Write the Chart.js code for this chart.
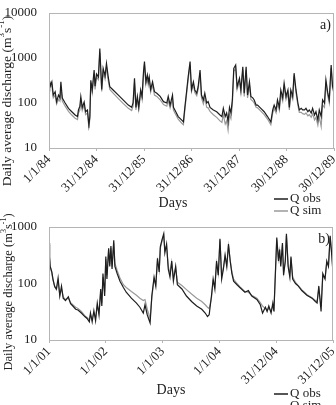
<!DOCTYPE html>
<html>
<head>
<meta charset="utf-8">
<script src="https://cdn.jsdelivr.net/npm/chart.js@4/dist/chart.umd.min.js"></script>
<style>
  body { margin: 0; background: #fff; width: 336px; height: 405px; overflow: hidden; position: relative; }
  canvas { display: block; position: absolute; left: 0; }
  #chartA { top: 0; }
  #chartB { top: 195px; }
</style>
</head>
<body>
<canvas id="chartA" width="336" height="218"></canvas>
<canvas id="chartB" width="336" height="210"></canvas>
<script>
// panel a) 1984-1989, time in years since 1/1/84
const tA = [0.00,0.02,0.06,0.09,0.13,0.16,0.20,0.23,0.25,0.28,0.34,0.41,0.48,0.55,0.60,0.62,0.65,0.67,0.70,0.74,
  0.77,0.81,0.84,0.86,0.88,0.91,0.95,0.97,1.00,1.04,1.07,1.11,1.14,1.18,1.21,1.25,1.28,1.35,1.46,1.56,
  1.67,1.74,1.77,1.80,1.83,1.86,1.89,1.93,1.96,1.99,2.01,2.04,2.07,2.09,2.11,2.14,2.18,2.22,2.27,2.34,
  2.41,2.48,2.51,2.55,2.60,2.62,2.65,2.72,2.79,2.83,2.86,2.90,2.93,2.97,3.00,3.04,3.07,3.11,3.14,3.18,
  3.21,3.25,3.28,3.32,3.35,3.39,3.46,3.53,3.60,3.64,3.67,3.71,3.74,3.77,3.80,3.83,3.86,3.89,3.93,3.96,
  4.01,4.04,4.08,4.11,4.15,4.18,4.22,4.25,4.29,4.32,4.36,4.39,4.46,4.53,4.60,4.67,4.71,4.74,4.78,4.81,
  4.85,4.88,4.92,4.95,4.99,5.03,5.06,5.09,5.13,5.16,5.20,5.24,5.27,5.31,5.34,5.38,5.41,5.45,5.48,5.52,
  5.55,5.59,5.62,5.66,5.69,5.73,5.76,5.80,5.83,5.87,5.90,5.94,5.97,6.00]
const obsA = [300,230,295,150,178,107,150,129,295,129,100,76,64,54,50,70,85,138,80,105,
  64,70,32,50,320,195,540,235,440,380,1630,200,590,400,760,360,230,195,150,117,
  90,80,100,355,80,140,80,195,140,500,830,295,420,295,380,200,295,178,165,140,
  107,100,140,90,150,80,70,50,42,38,80,195,380,830,200,295,195,165,230,540,
  150,117,165,100,107,80,70,64,54,50,76,50,60,38,80,60,117,590,700,230,
  355,195,640,165,640,150,295,140,130,117,90,90,76,64,50,38,70,90,70,117,
  80,195,130,275,140,195,80,195,140,460,195,100,70,76,70,70,76,64,70,60,
  76,54,64,42,70,50,117,100,325,165,117,700,230,190]
const simA = [270,220,250,130,150,95,120,110,230,110,85,65,54,46,43,60,70,110,68,90,
  55,60,28,45,280,170,450,200,380,330,1300,180,480,340,620,300,200,165,125,98,
  76,68,85,280,70,120,72,170,120,430,720,260,360,250,320,175,250,150,140,118,
  92,85,115,78,120,70,60,44,36,33,70,170,330,700,180,250,170,145,200,460,
  130,95,130,80,78,65,55,48,40,37,55,34,40,25,55,45,90,500,600,200,
  300,170,540,140,540,130,250,120,110,100,80,78,66,55,44,33,60,75,60,95,
  68,160,110,230,120,165,70,160,120,390,170,88,62,62,58,56,60,52,55,48,
  58,42,48,32,50,30,90,80,270,140,100,600,200,170]
const xTickPosA = [0,1,2,3,4,5,6]
const xLabelsA = ["1/1/84","31/12/84","31/12/85","31/12/86","31/12/87","30/12/88","30/12/89"]
const yTicksA = [10,100,1000,10000]

// panel b) 2001-2005, time in years since 1/1/01
const tB = [0.00,0.01,0.02,0.05,0.07,0.10,0.13,0.16,0.19,0.22,0.25,0.29,0.34,0.38,0.42,0.47,0.51,0.57,0.63,0.67,
  0.71,0.73,0.76,0.79,0.82,0.85,0.88,0.91,0.93,0.95,0.98,1.00,1.02,1.05,1.07,1.09,1.11,1.14,1.16,1.20,
  1.25,1.31,1.36,1.45,1.54,1.60,1.66,1.69,1.73,1.78,1.81,1.85,1.88,1.91,1.94,1.96,1.99,2.02,2.04,2.07,
  2.10,2.13,2.16,2.19,2.23,2.26,2.34,2.42,2.51,2.60,2.69,2.75,2.79,2.82,2.86,2.89,2.92,2.95,2.98,3.01,
  3.04,3.07,3.10,3.13,3.16,3.19,3.22,3.25,3.31,3.36,3.45,3.51,3.57,3.66,3.72,3.76,3.81,3.84,3.87,3.91,
  3.94,3.96,3.99,4.01,4.04,4.06,4.08,4.11,4.13,4.16,4.18,4.21,4.24,4.26,4.29,4.34,4.39,4.45,4.54,4.63,
  4.69,4.72,4.75,4.79,4.82,4.86,4.89,4.92,4.95,4.98,5.00]
const obsB = [520,300,200,160,120,88,80,125,60,90,55,50,58,44,40,35,34,30,26,24,
  21,30,21,33,22,45,28,80,40,150,60,300,120,420,200,460,180,580,200,150,
  110,85,70,55,45,38,30,42,28,20,60,130,90,280,160,450,600,760,350,500,
  180,130,250,110,200,95,80,60,48,40,35,30,26,28,60,120,80,250,140,620,
  120,180,320,200,500,250,150,110,95,85,70,75,60,52,42,30,38,32,40,30,
  45,32,200,650,250,400,200,520,140,250,760,200,130,300,120,100,90,75,62,55,
  48,45,90,32,150,120,250,200,700,300,150]
const simB = [480,280,210,150,115,90,78,110,62,80,58,52,55,46,42,38,36,32,27,25,
  23,28,24,30,25,40,30,70,45,130,70,270,140,400,220,430,200,520,230,170,
  125,95,85,72,62,55,50,52,35,24,55,120,95,250,170,420,560,700,380,460,
  200,150,240,130,190,105,92,78,65,55,48,42,38,36,55,110,90,230,150,580,
  140,190,300,210,460,260,160,120,100,88,72,70,62,55,46,40,36,34,36,33,
  40,35,180,600,270,380,220,480,160,240,700,220,140,280,130,105,92,78,64,56,
  50,48,80,40,130,125,230,210,650,320,170]
const xTickPosB = [0,1,2,3,4,5]
const xLabelsB = ["1/1/01","1/1/02","1/1/03","1/1/04","31/12/04","31/12/05"]
const yTicksB = [10,100,1000]

const FONT = '"Liberation Serif", "Times New Roman", serif'
const TEXT = "#222"

const decor = {
  id: "decor",
  afterDraw(chart, args, o) {
    const ctx = chart.ctx
    const a = chart.chartArea
    ctx.save()
    // plot frame
    ctx.strokeStyle = "#b5b5b5"
    ctx.lineWidth = 1
    ctx.strokeRect(Math.round(a.left) + 0.5, Math.round(a.top) + 0.5, Math.round(a.right - a.left) - 1, Math.round(a.bottom - a.top))
    ctx.fillStyle = TEXT
    // panel letter
    ctx.font = "14px " + FONT
    ctx.textAlign = "right"
    ctx.textBaseline = "middle"
    ctx.fillText(o.letter, a.right - 3, o.letterY)
    // x title
    ctx.textAlign = "center"
    ctx.fillText("Days", o.daysX, o.daysY)
    // y title with superscripts
    const parts = [["Daily average discharge (m", 0], ["3", 1], ["s", 0], ["-1", 1], [")", 0]]
    const supSize = Math.round(o.titleSize * 0.65)
    let total = 0
    parts.forEach(([t, sup]) => {
      ctx.font = (sup ? supSize : o.titleSize) + "px " + FONT
      total += ctx.measureText(t).width
    })
    ctx.translate(o.titleX, o.titleY)
    ctx.rotate(-Math.PI / 2)
    ctx.textAlign = "left"
    let x = -total / 2
    parts.forEach(([t, sup]) => {
      ctx.font = (sup ? supSize : o.titleSize) + "px " + FONT
      ctx.fillText(t, x, sup ? -5 : 0)
      x += ctx.measureText(t).width
    })
    ctx.setTransform(1, 0, 0, 1, 0, 0)
    // legend
    ctx.font = "13px " + FONT
    ctx.textAlign = "left"
    chart.data.datasets.forEach((ds, i) => {
      const y = o.legendY + i * 12
      ctx.strokeStyle = ds.borderColor
      ctx.lineWidth = 1.5
      ctx.beginPath()
      ctx.moveTo(274, y)
      ctx.lineTo(288, y)
      ctx.stroke()
      ctx.fillText(ds.label, 290, y)
    })
    ctx.restore()
  }
}

function makeChart(id, t, obs, sim, yMax, yTicks, xMax, xPos, xLabels, layout, deco) {
  return new Chart(document.getElementById(id), {
    type: "line",
    data: {
      datasets: [
        { label: "Q obs", data: t.map((v, i) => ({ x: v, y: obs[i] })), borderColor: "#1e1e1e", borderWidth: 1.2 },
        { label: "Q sim", data: t.map((v, i) => ({ x: v, y: sim[i] })), borderColor: "#9a9a9a", borderWidth: 1.2 }
      ]
    },
    options: {
      responsive: false,
      animation: false,
      layout: { padding: layout.padding },
      elements: { point: { radius: 0 }, line: { tension: 0 } },
      plugins: { legend: { display: false }, tooltip: { enabled: false }, decor: deco },
      scales: {
        x: {
          type: "linear", min: 0, max: xMax,
          afterBuildTicks: s => { s.ticks = xPos.map(v => ({ value: v })) },
          afterFit: s => { s.height = layout.xHeight; s.paddingLeft = 0; s.paddingRight = 0 },
          border: { display: false },
          grid: { drawOnChartArea: false, tickLength: 3, color: "#b5b5b5" },
          ticks: {
            autoSkip: false, maxRotation: 45, minRotation: 45, padding: 1,
            color: TEXT, font: { family: FONT, size: 13 },
            callback: (v, i) => xLabels[i]
          }
        },
        y: {
          type: "logarithmic", min: 10, max: yMax,
          afterBuildTicks: s => { s.ticks = yTicks.map(v => ({ value: v })) },
          afterFit: s => { s.width = 49 },
          border: { display: false },
          grid: { display: false },
          ticks: {
            padding: 4, color: TEXT, font: { family: FONT, size: 13 },
            callback: v => String(v)
          }
        }
      }
    },
    plugins: [decor]
  })
}

makeChart("chartA", tA, obsA, simA, 10000, yTicksA, 6, xTickPosA, xLabelsA,
  { padding: { top: 13, right: 2, left: 0, bottom: 0 }, xHeight: 70 },
  { letter: "a)", letterY: 25, daysX: 173, daysY: 203, titleX: 7, titleY: 101, titleSize: 13.5, legendY: 199 })

makeChart("chartB", tB, obsB, simB, 1000, yTicksB, 5, xTickPosB, xLabelsB,
  { padding: { top: 32, right: 3, left: 0, bottom: 0 }, xHeight: 65 },
  { letter: "b)", letterY: 44, daysX: 171, daysY: 195, titleX: 9, titleY: 97, titleSize: 12.5, legendY: 199 })
</script>
</body>
</html>
